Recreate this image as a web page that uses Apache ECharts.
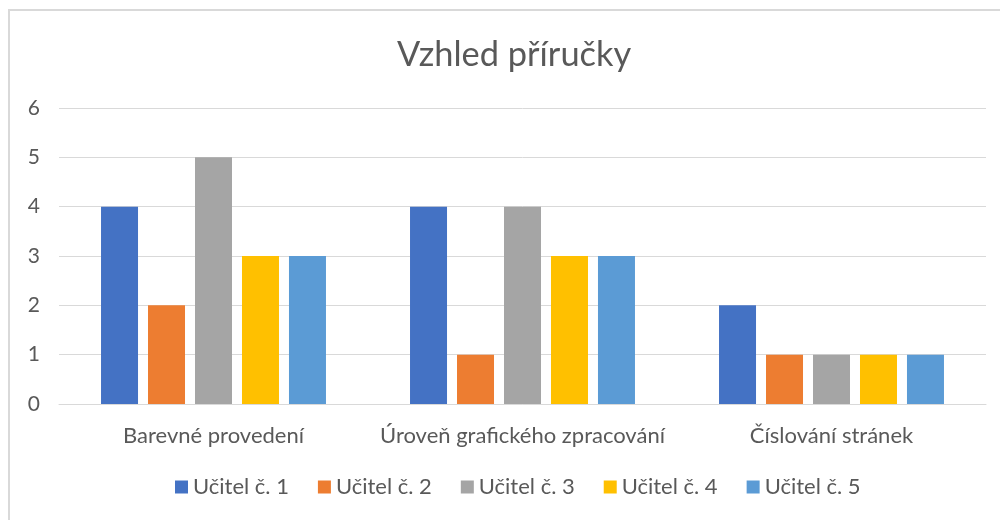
<!DOCTYPE html>
<html><head><meta charset="utf-8">
<script src="https://cdn.jsdelivr.net/npm/echarts@6/dist/echarts.min.js"></script>
<style>html,body{margin:0;padding:0;background:#fff;overflow:hidden}
#wrap{position:relative;width:1000px;height:520px}
#c{position:absolute;left:0;top:0;width:1000px;height:520px}
#b{position:absolute;left:8px;top:9px;width:1100px;height:600px;border:2px solid #d9d9d9;box-sizing:border-box;pointer-events:none}</style>
</head><body><div id="wrap"><div id="c"></div><div id="b"></div></div>
<script>
const categories = ['Barevné provedení', 'Úroveň grafického zpracování', 'Číslování stránek'];
const seriesNames = ['Učitel č. 1', 'Učitel č. 2', 'Učitel č. 3', 'Učitel č. 4', 'Učitel č. 5'];
const teacher1 = [4, 4, 2];
const teacher2 = [2, 1, 1];
const teacher3 = [5, 4, 1];
const teacher4 = [3, 3, 1];
const teacher5 = [3, 3, 1];
const values = [teacher1, teacher2, teacher3, teacher4, teacher5];
const colors = ['#4472C4', '#ED7D31', '#A5A5A5', '#FFC000', '#5B9BD5'];
const font = 'Lato, "Open Sans", sans-serif';
const chart = echarts.init(document.getElementById('c'));
chart.setOption({
  animation: false,
  textStyle: {fontFamily: font},
  title: {text: 'Vzhled příručky', left: 392, top: 33,
    textStyle: {fontSize: 34.4, fontWeight: 'normal', color: '#595959', fontFamily: font}},
  legend: {bottom: 17, left: 170, itemWidth: 13, itemHeight: 13, itemGap: 29, icon: 'rect',
    textStyle: {fontSize: 22, color: '#595959', fontFamily: font}},
  grid: {left: 59, right: 14, top: 108, bottom: 116, containLabel: false},
  xAxis: {type: 'category', data: categories,
    axisLine: {lineStyle: {color: '#d9d9d9'}}, axisTick: {show: false},
    axisLabel: {fontSize: 22, color: '#595959', margin: 21, interval: 0, fontFamily: font}},
  yAxis: {type: 'value', min: 0, max: 6, interval: 1,
    axisLine: {show: false}, axisTick: {show: false},
    splitLine: {lineStyle: {color: '#d9d9d9'}},
    axisLabel: {fontSize: 21, color: '#595959', margin: 19, fontFamily: font}},
  series: seriesNames.map((n, i) => ({
    name: n, type: 'bar', data: values[i], barWidth: 37, barGap: '27%',
    itemStyle: {color: colors[i]}
  }))
});
</script></body></html>
